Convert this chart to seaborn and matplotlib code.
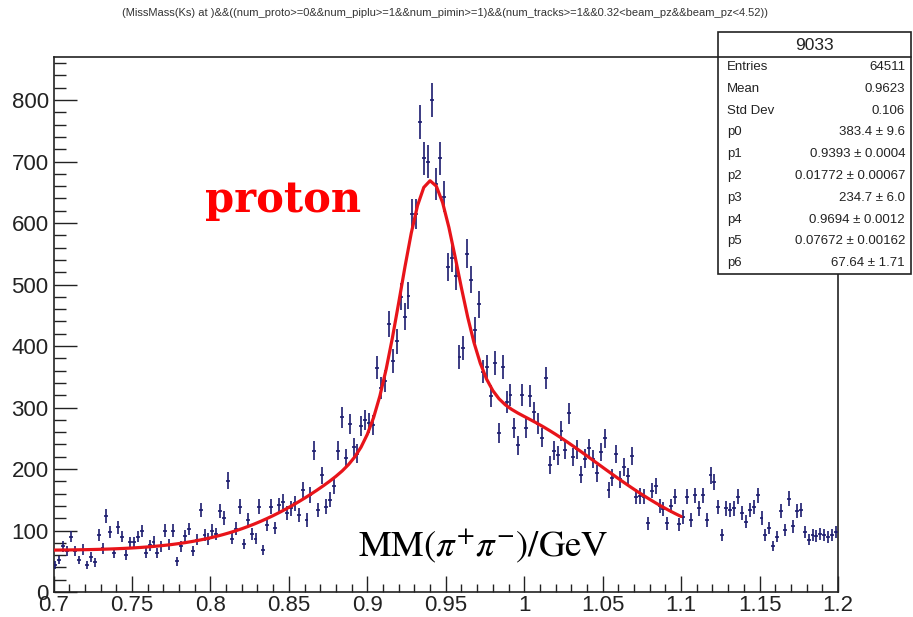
import numpy as np
import matplotlib
matplotlib.use("Agg")
import matplotlib.pyplot as plt
import seaborn as sns
from matplotlib.patches import Rectangle
from matplotlib.lines import Line2D
from matplotlib.ticker import FixedLocator, MultipleLocator

# ---- histogram: missing mass, 200 bins of 0.0025 GeV between 0.70 and 1.20 ----
bin_lo, bin_hi, n_bins = 0.70, 1.20, 200

counts_070_082 = [44, 52, 74, 66, 90, 66, 52, 69, 44, 57,
                  48, 93, 71, 124, 97, 63, 105, 90, 60, 81,
                  81, 90, 99, 63, 76, 82, 64, 74, 100, 77,
                  100, 50, 74, 91, 102, 67, 85, 133, 93, 86,
                  100, 95, 131, 120, 181, 87, 103, 139, 78, 117]
counts_082_095 = [95, 87, 139, 68, 109, 139, 104, 141, 147, 128,
                  136, 144, 125, 166, 117, 158, 230, 133, 190, 139,
                  150, 172, 230, 284, 218, 273, 235, 225, 270, 280,
                  275, 272, 365, 332, 343, 436, 376, 408, 480, 448,
                  482, 615, 615, 765, 705, 700, 800, 663, 705, 643]
counts_095_107 = [528, 543, 514, 382, 397, 550, 508, 426, 468, 358,
                  366, 319, 373, 258, 366, 309, 321, 266, 239, 320,
                  266, 318, 292, 274, 251, 348, 206, 230, 222, 262,
                  231, 291, 219, 232, 191, 217, 234, 216, 193, 228,
                  250, 166, 186, 224, 183, 203, 188, 221, 155, 156]
counts_107_120 = [155, 112, 165, 172, 140, 135, 112, 140, 155, 110,
                  122, 155, 117, 157, 136, 157, 117, 190, 179, 138,
                  93, 136, 133, 136, 155, 128, 114, 133, 138, 157,
                  120, 93, 104, 75, 90, 131, 101, 152, 107, 131,
                  133, 98, 85, 93, 91, 94, 93, 89, 93, 98]

# ---- fit: two gaussians on a flat background, fitted on 0.70-1.10 ----
fit_names = ["p0", "p1", "p2", "p3", "p4", "p5", "p6"]
fit_values = [383.4, 0.9393, 0.01772, 234.7, 0.9694, 0.07672, 67.64]
fit_values_text = ["383.4", "0.9393", "0.01772", "234.7", "0.9694", "0.07672", "67.64"]
fit_errors = ["9.6", "0.0004", "0.00067", "6.0", "0.0012", "0.00162", "1.71"]
fit_lo, fit_hi = 0.70, 1.10

stats_title = "9033"
stats_labels = ["Entries", "Mean", "Std Dev"]
stats_values = ["64511", "0.9623", "0.106"]

x_ticks = [0.7, 0.75, 0.8, 0.85, 0.9, 0.95, 1.0, 1.05, 1.1, 1.15, 1.2]
x_tick_labels = ["0.7", "0.75", "0.8", "0.85", "0.9", "0.95", "1", "1.05", "1.1", "1.15", "1.2"]
y_ticks = [0, 100, 200, 300, 400, 500, 600, 700, 800]
y_tick_labels = ["0", "100", "200", "300", "400", "500", "600", "700", "800"]

title_text = ("(MissMass(Ks) at )&&((num_proto>=0&&num_piplu>=1&&num_pimin>=1)"
              "&&(num_tracks>=1&&0.32<beam_pz&&beam_pz<4.52))")
particle_label = "proton"
axis_label = r"$\mathrm{MM}(\pi^{+}\pi^{-})/\mathrm{GeV}$"

# ---- style ----
sns.set_style("ticks")
plt.rcParams["font.family"] = ["Liberation Sans", "DejaVu Sans"]
plt.rcParams["mathtext.fontset"] = "stix"

W, H = 913, 617
fig = plt.figure(figsize=(W / 100, H / 100), dpi=100)
fig.patch.set_facecolor("white")


def fx(px):
    return px / W


def fy(py):
    return 1 - py / H


ax_l, ax_r, ax_t, ax_b = 53.5, 838, 57, 592
ax = fig.add_axes([fx(ax_l), fy(ax_b), fx(ax_r - ax_l), (ax_b - ax_t) / H])
ax.set_facecolor("white")

counts = np.array(counts_070_082 + counts_082_095 + counts_095_107 + counts_107_120, dtype=float)
edges = np.linspace(bin_lo, bin_hi, n_bins + 1)
centers = 0.5 * (edges[:-1] + edges[1:])
half_w = 0.5 * (edges[1] - edges[0])

navy = "#1b1b6e"
ax.errorbar(centers, counts, yerr=np.sqrt(counts), xerr=half_w, fmt="none",
            ecolor=navy, elinewidth=1.2, capsize=0, zorder=3)

# fit curve evaluated from the fitted parameters
p0, p1, p2, p3, p4, p5, p6 = fit_values
xf = np.linspace(fit_lo, fit_hi, 101)
yf = (p0 * np.exp(-0.5 * ((xf - p1) / p2) ** 2)
      + p3 * np.exp(-0.5 * ((xf - p4) / p5) ** 2) + p6)
sns.lineplot(x=xf, y=yf, ax=ax, color="#e8141a", linewidth=2.3, estimator=None,
             sort=False, zorder=4)

ax.set_xlim(bin_lo, bin_hi)
ax.set_ylim(0, 870)

ax.xaxis.set_major_locator(FixedLocator(x_ticks))
ax.set_xticklabels(x_tick_labels)
ax.xaxis.set_minor_locator(MultipleLocator(0.01))
ax.yaxis.set_major_locator(FixedLocator(y_ticks))
ax.set_yticklabels(y_tick_labels)
ax.yaxis.set_minor_locator(MultipleLocator(20))

ax.tick_params(axis="x", which="major", direction="in", length=11.5, width=1.0,
               top=False, labelsize=16, pad=2.5, colors="#222222")
ax.tick_params(axis="x", which="minor", direction="in", length=5.8, width=1.0, top=False,
               colors="#222222")
ax.tick_params(axis="y", which="major", direction="in", length=16.5, width=1.0,
               right=False, labelsize=16, pad=3.5, colors="#222222")
ax.tick_params(axis="y", which="minor", direction="in", length=8.6, width=1.0, right=False,
               colors="#222222")
for sp in ax.spines.values():
    sp.set_visible(True)
    sp.set_linewidth(1.2)
    sp.set_color("#222222")
ax.set_xlabel("")
ax.set_ylabel("")

# ---- title ----
fig.text(fx(445), fy(13), title_text, ha="center", va="center", fontsize=8.0,
         color="#333333")

# ---- annotations ----
fig.text(fx(205), fy(212), particle_label, ha="left", va="baseline", fontsize=30,
         fontweight="bold", color="#ff0000", family="DejaVu Serif")
fig.text(fx(358), fy(556), axis_label, ha="left", va="baseline", fontsize=26.5,
         color="black")

# ---- statistics box ----
bx_l, bx_r, bx_t, bx_b = 718, 911, 32, 274
fig.patches.append(Rectangle((fx(bx_l), fy(bx_b)), fx(bx_r - bx_l), (bx_b - bx_t) / H,
                             transform=fig.transFigure, facecolor="white",
                             edgecolor="#222222", linewidth=1.2, zorder=5))
fig.lines.append(Line2D([fx(bx_l), fx(bx_r)], [fy(57), fy(57)], transform=fig.transFigure,
                        color="#222222", linewidth=1.2, zorder=6))
fig.text(fx((bx_l + bx_r) / 2), fy(45), stats_title, ha="center", va="center",
         fontsize=12.5, color="#222222", zorder=7)

rows_l = stats_labels + fit_names
rows_v = stats_values + [f"{v} \u00b1 {e}" for v, e in zip(fit_values_text, fit_errors)]
row_y0, row_dy = 67, 21.8
for k, (lab, val) in enumerate(zip(rows_l, rows_v)):
    yy = fy(row_y0 + k * row_dy)
    fig.text(fx(727), yy, lab, ha="left", va="center", fontsize=9.5, color="#222222",
             zorder=7)
    fig.text(fx(905), yy, val, ha="right", va="center", fontsize=9.5, color="#222222",
             zorder=7)

fig.savefig("out.png", dpi=100, facecolor="white")
